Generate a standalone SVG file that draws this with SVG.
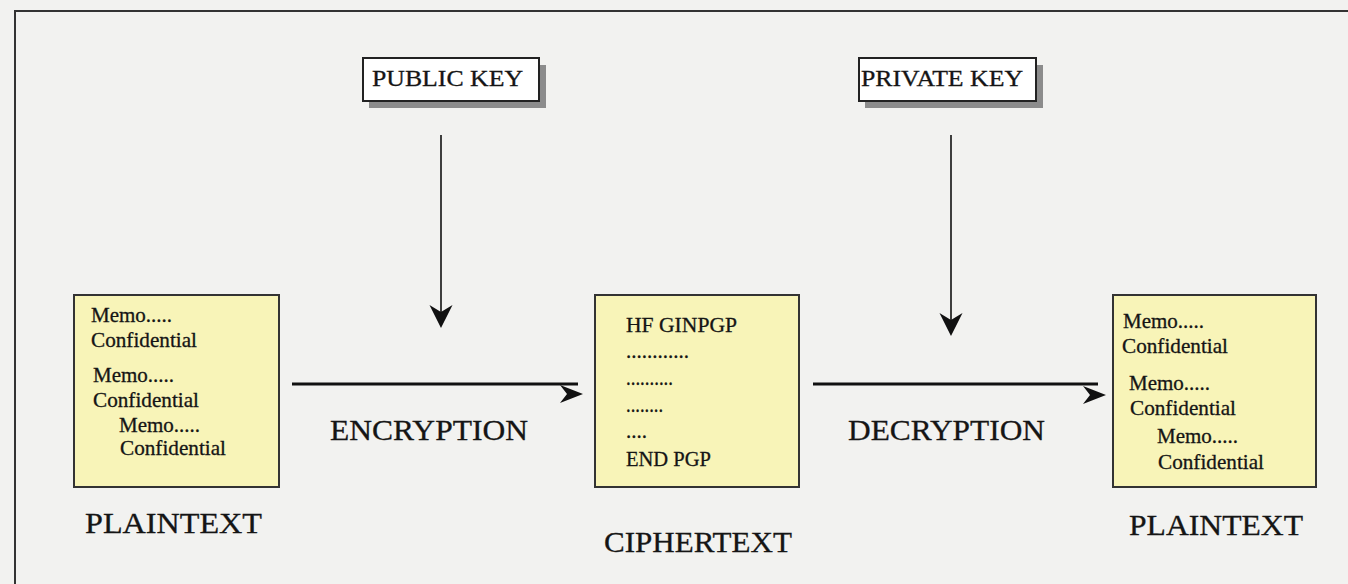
<svg xmlns="http://www.w3.org/2000/svg" width="1348" height="584" viewBox="0 0 1348 584">
  <style>
    .bg { fill: #f2f2f0; }
    .frame { fill: none; stroke: #333; stroke-width: 2; }
    .doc { fill: #f8f4b8; stroke: #333; stroke-width: 2; }
    .key { fill: #ffffff; stroke: #222; stroke-width: 2; }
    .shadow { fill: #8c8c8c; }
    text { font-family: "Liberation Serif", "Times New Roman", serif; fill: #151515; stroke: #151515; stroke-width: 0.3; }
    .small { font-size: 21px; }
    .keytxt { font-size: 23px; }
    .label { font-size: 30px; }
    .thin { stroke: #111; stroke-width: 1.6; fill: none; }
    .thick { stroke: #111; stroke-width: 3; fill: none; }
    .head { fill: #111; }
  </style>
  <defs>
    <!-- swept-back arrowhead pointing right, tip at origin -->
    <path id="arrowhead" d="M0,0 L-23,-9 L-16,0 L-23,9 Z"/>
  </defs>

  <rect class="bg" x="0" y="0" width="1348" height="584"/>
  <rect class="frame" x="15" y="11" width="1400" height="620"/>

  <!-- key boxes -->
  <g id="public-key">
    <rect class="shadow" x="369" y="65" width="177" height="43"/>
    <rect class="key" x="363" y="58" width="176" height="43"/>
    <text class="keytxt" x="372" y="86" textLength="151" lengthAdjust="spacingAndGlyphs">PUBLIC KEY</text>
  </g>
  <g id="private-key">
    <rect class="shadow" x="865" y="65" width="178" height="43"/>
    <rect class="key" x="859" y="58" width="177" height="43"/>
    <text class="keytxt" x="861" y="86" textLength="162" lengthAdjust="spacingAndGlyphs">PRIVATE KEY</text>
  </g>

  <!-- plaintext document -->
  <g id="plaintext-in">
    <rect class="doc" x="74" y="295" width="205" height="192"/>
    <text class="small" x="91" y="322">Memo.....</text>
    <text class="small" x="91" y="347" textLength="106" lengthAdjust="spacingAndGlyphs">Confidential</text>
    <text class="small" x="93" y="382">Memo.....</text>
    <text class="small" x="93" y="407" textLength="106" lengthAdjust="spacingAndGlyphs">Confidential</text>
    <text class="small" x="119" y="432">Memo.....</text>
    <text class="small" x="120" y="455" textLength="106" lengthAdjust="spacingAndGlyphs">Confidential</text>
    <text class="label" x="85" y="533" textLength="177" lengthAdjust="spacingAndGlyphs">PLAINTEXT</text>
  </g>

  <!-- ciphertext document -->
  <g id="ciphertext">
    <rect class="doc" x="595" y="295" width="204" height="192"/>
    <text class="small" x="626" y="332" textLength="111" lengthAdjust="spacingAndGlyphs">HF GINPGP</text>
    <text class="small" x="626" y="358" textLength="63" lengthAdjust="spacingAndGlyphs">............</text>
    <text class="small" x="626" y="385" textLength="47" lengthAdjust="spacingAndGlyphs">..........</text>
    <text class="small" x="626" y="412" textLength="37" lengthAdjust="spacingAndGlyphs">........</text>
    <text class="small" x="626" y="438" textLength="21" lengthAdjust="spacingAndGlyphs">....</text>
    <text class="small" x="626" y="466" textLength="85" lengthAdjust="spacingAndGlyphs">END PGP</text>
    <text class="label" x="604" y="552" textLength="188" lengthAdjust="spacingAndGlyphs">CIPHERTEXT</text>
  </g>

  <!-- decrypted plaintext document -->
  <g id="plaintext-out">
    <rect class="doc" x="1113" y="295" width="203" height="192"/>
    <text class="small" x="1123" y="328">Memo.....</text>
    <text class="small" x="1122" y="353" textLength="106" lengthAdjust="spacingAndGlyphs">Confidential</text>
    <text class="small" x="1129" y="390">Memo.....</text>
    <text class="small" x="1130" y="415" textLength="106" lengthAdjust="spacingAndGlyphs">Confidential</text>
    <text class="small" x="1157" y="443">Memo.....</text>
    <text class="small" x="1158" y="469" textLength="106" lengthAdjust="spacingAndGlyphs">Confidential</text>
    <text class="label" x="1129" y="535" textLength="174" lengthAdjust="spacingAndGlyphs">PLAINTEXT</text>
  </g>

  <!-- process labels -->
  <g id="encryption">
    <text class="label" x="330" y="440" textLength="198" lengthAdjust="spacingAndGlyphs">ENCRYPTION</text>
  </g>
  <g id="decryption">
    <text class="label" x="848" y="440" textLength="197" lengthAdjust="spacingAndGlyphs">DECRYPTION</text>
  </g>

  <!-- connectors -->
  <g id="connectors">
    <line class="thin" x1="441" y1="135" x2="441" y2="312"/>
    <use href="#arrowhead" class="head" transform="translate(441,328) rotate(90) scale(1,1.28)"/>
    <line class="thin" x1="951" y1="135" x2="951" y2="320"/>
    <use href="#arrowhead" class="head" transform="translate(951,336) rotate(90) scale(1,1.28)"/>
    <line class="thick" x1="292" y1="384" x2="578" y2="384"/>
    <use href="#arrowhead" class="head" transform="translate(583,394)"/>
    <line class="thick" x1="813" y1="384" x2="1098" y2="384"/>
    <use href="#arrowhead" class="head" transform="translate(1106,395)"/>
  </g>
</svg>
